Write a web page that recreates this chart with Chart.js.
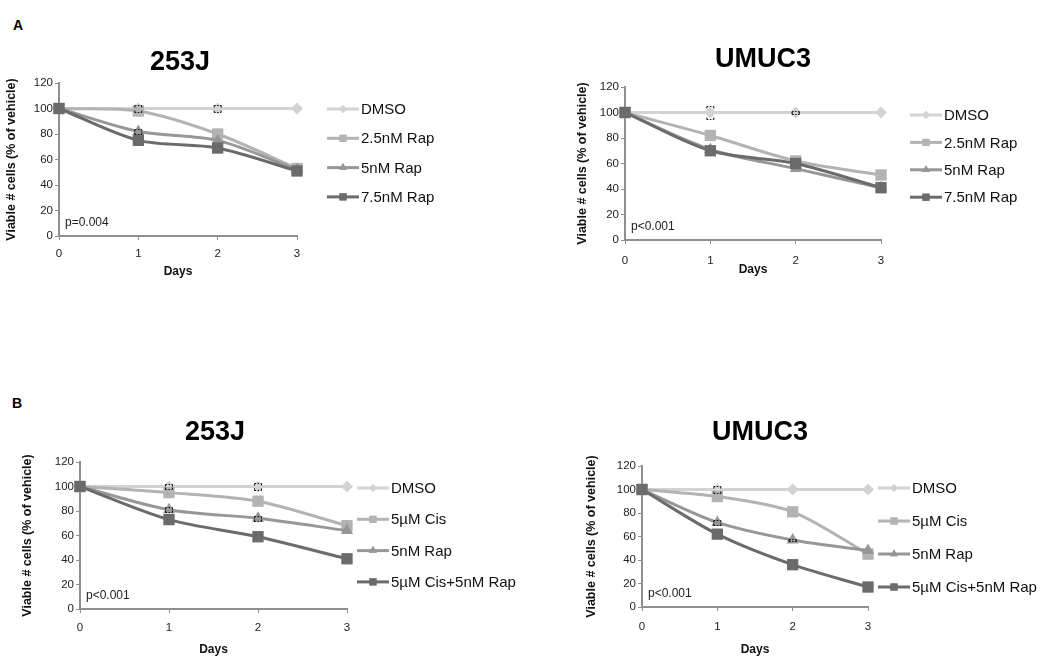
<!DOCTYPE html>
<html>
<head>
<meta charset="utf-8">
<script src="https://cdn.jsdelivr.net/npm/chart.js@4.4.0/dist/chart.umd.min.js"></script>
<style>
  body { margin: 0; background: #fff; width: 1050px; height: 672px; position: relative; overflow: hidden;
         font-family: Arial, 'Liberation Sans', sans-serif; }
  canvas { position: absolute; }
  .tag { position: absolute; font-weight: bold; font-size: 14px; color: #000; }
</style>
</head>
<body>
<div class="tag" style="left:13px;top:17px">A</div>
<div class="tag" style="left:12px;top:395px">B</div>
<canvas id="cA1"></canvas>
<canvas id="cA2"></canvas>
<canvas id="cB1"></canvas>
<canvas id="cB2"></canvas>
<script>
/* ---- data ---- */
const days = ['0', '1', '2', '3'];
const yMax = 120, yStep = 20;

const namesA = ['DMSO', '2.5nM Rap', '5nM Rap', '7.5nM Rap'];
const namesB = ['DMSO', '5µM Cis', '5nM Rap', '5µM Cis+5nM Rap'];

// A – 253J
const a253Dmso = [100, 100, 100, 100];
const a253Rap25 = [100, 98, 80, 53];
const a253Rap5 = [100, 82, 75, 52];
const a253Rap75 = [100, 75, 69, 51];
const a253DmsoErr = [0, 3, 3, 0];
const a253Rap5Err = [0, 2, 0, 0];

// A – UMUC3
const aUmDmso = [100, 100, 100, 100];
const aUmRap25 = [100, 82, 62, 51];
const aUmRap5 = [100, 71, 56, 41];
const aUmRap75 = [100, 70, 60, 41];
const aUmDmsoErr = [0, 5, 1, 0];

// B – 253J
const b253Dmso = [100, 100, 100, 100];
const b253Cis = [100, 95, 88, 68];
const b253Rap = [100, 81, 74, 64];
const b253Combo = [100, 73, 59, 41];
const b253DmsoErr = [0, 2, 3, 0];
const b253RapErr = [0, 2, 2, 0];

// B – UMUC3
const bUmDmso = [100, 100, 100, 100];
const bUmCis = [100, 94, 81, 45];
const bUmRap = [100, 72, 57, 48];
const bUmCombo = [100, 62, 36, 17];
const bUmDmsoErr = [0, 3, 0, 0];
const bUmRapErr = [0, 2, 1, 0];

/* ---- look ---- */
const FONT = "Arial, 'Liberation Sans', sans-serif";
const colors = ['#d3d3d3', '#b3b3b3', '#979797', '#6b6b6b'];
const markers = ['rectRot', 'rect', 'triangle', 'rect'];
const radii = [6, 8, 7, 8];
const legRadii = [4, 5, 4.5, 5];
const axisCol = '#8f8f8f';

/* ── titles, p value, legend and error bars drawn on the canvas ── */
const panelText = {
    id: 'panelText',
    afterDatasetsDraw(chart, args, o) {
        const ctx = chart.ctx, ca = chart.chartArea;
        const ys = chart.scales.y;
        ctx.save();
        // error bars (dotted caps)
        chart.data.datasets.forEach((ds, i) => {
            if (!ds.errors) return;
            const meta = chart.getDatasetMeta(i);
            ds.errors.forEach((e, j) => {
                if (!e) return;
                const x = meta.data[j].x;
                const yTop = Math.round(ys.getPixelForValue(ds.data[j] + e)) + 0.5;
                const yBot = Math.round(ys.getPixelForValue(ds.data[j] - e)) + 0.5;
                ctx.strokeStyle = '#111'; ctx.lineWidth = 1; ctx.setLineDash([1.5, 1.5]);
                ctx.beginPath();
                ctx.moveTo(x - 3.5, yTop); ctx.lineTo(x + 3.5, yTop);
                ctx.moveTo(x - 3.5, yBot); ctx.lineTo(x + 3.5, yBot);
                ctx.stroke();
                ctx.setLineDash([]);
                ctx.beginPath();
                ctx.moveTo(x - 3.5, yTop); ctx.lineTo(x - 3.5, yTop + 2);
                ctx.moveTo(x + 3.5, yTop); ctx.lineTo(x + 3.5, yTop + 2);
                ctx.moveTo(x - 3.5, yBot); ctx.lineTo(x - 3.5, yBot - 2);
                ctx.moveTo(x + 3.5, yBot); ctx.lineTo(x + 3.5, yBot - 2);
                ctx.stroke();
            });
        });
        ctx.setLineDash([]);
        // title
        ctx.fillStyle = '#000';
        ctx.font = 'bold 27px ' + FONT;
        ctx.textAlign = 'center'; ctx.textBaseline = 'middle';
        ctx.fillText(o.title, o.titleX, o.titleY);
        // p value
        ctx.font = '12px ' + FONT;
        ctx.textAlign = 'left';
        ctx.fillStyle = '#222';
        ctx.fillText(o.p, ca.left + 6, ca.bottom - 13);
        // legend
        chart.data.datasets.forEach((ds, i) => {
            const y = o.legY + i * o.legDy;
            const x0 = o.legX, x1 = o.legX + 32;
            ctx.strokeStyle = ds.borderColor; ctx.lineWidth = 3;
            ctx.beginPath(); ctx.moveTo(x0, y); ctx.lineTo(x1, y); ctx.stroke();
            ctx.fillStyle = ds.borderColor;
            Chart.helpers.drawPoint(ctx, { pointStyle: ds.pointStyle, radius: legRadii[i], borderWidth: 0 }, (x0 + x1) / 2, y);
            ctx.fill();
            ctx.fillStyle = '#111';
            ctx.font = '15px ' + FONT;
            ctx.fillText(ds.label, x1 + 2, y + 1);
        });
        ctx.restore();
    }
};

function makePanel(id, L, names, series, errs) {
    const cv = document.getElementById(id);
    cv.width = L.cw; cv.height = L.ch;
    cv.style.left = L.cx + 'px'; cv.style.top = L.cy + 'px';

    const yTitleLeft = L.yTitleX - 7.5;
    const xBottom = L.daysY + 7.2;

    const datasets = series.map((d, i) => ({
        label: names[i],
        data: d,
        errors: errs[i],
        borderColor: colors[i],
        backgroundColor: colors[i],
        pointBackgroundColor: colors[i],
        pointBorderWidth: 0,
        pointStyle: markers[i],
        pointRadius: radii[i],
        borderWidth: 3,
        tension: 0.3,
        order: 3 - i
    }));

    new Chart(cv, {
        type: 'line',
        data: { labels: days, datasets },
        options: {
            responsive: false, animation: false,
            layout: { padding: {
                left: yTitleLeft - L.cx,
                top: L.plot.t - L.cy,
                right: L.cx + L.cw - L.plot.r,
                bottom: L.cy + L.ch - xBottom
            } },
            plugins: {
                legend: { display: false }, tooltip: { enabled: false },
                panelText: {
                    title: L.title, titleX: L.titleX - L.cx, titleY: L.titleY - L.cy, p: L.p,
                    legX: L.plot.r + L.legDx - L.cx, legY: L.legY - L.cy, legDy: L.legDy
                }
            },
            scales: {
                x: {
                    type: 'category', offset: false,
                    afterFit: s => { s.height = xBottom - L.plot.b; },
                    grid: { drawOnChartArea: false, drawTicks: true, tickLength: 4, color: axisCol },
                    border: { color: axisCol, width: 2 },
                    ticks: { color: '#222', font: { family: FONT, size: 11.5 }, padding: L.xPad, maxRotation: 0 },
                    title: { display: true, text: 'Days', color: '#111', padding: 0,
                             font: { family: FONT, size: 12, weight: 'bold' } }
                },
                y: {
                    min: 0, max: yMax,
                    afterFit: s => { s.width = L.plot.l - yTitleLeft; },
                    grid: { drawOnChartArea: false, drawTicks: true, tickLength: 4, color: axisCol },
                    border: { color: axisCol, width: 2 },
                    ticks: { stepSize: yStep, color: '#222', font: { family: FONT, size: 11.5 }, padding: 2 },
                    title: { display: true, text: 'Viable # cells (% of vehicle)', color: '#111', padding: 0,
                             font: { family: FONT, size: 12.5, weight: 'bold' } }
                }
            }
        },
        plugins: [panelText]
    });
}

makePanel('cA1',
    { cx: 0, cy: 30, cw: 540, ch: 270, plot: { l: 59, t: 83, r: 297, b: 236 },
      title: '253J', titleX: 180, titleY: 63, yTitleX: 12, daysY: 272, xPad: 7,
      p: 'p=0.004', legDx: 30, legY: 109, legDy: 29.3 },
    namesA, [a253Dmso, a253Rap25, a253Rap5, a253Rap75], [a253DmsoErr, null, a253Rap5Err, null]);

makePanel('cA2',
    { cx: 540, cy: 30, cw: 510, ch: 270, plot: { l: 625, t: 87, r: 881, b: 240 },
      title: 'UMUC3', titleX: 763, titleY: 60, yTitleX: 583, daysY: 270, xPad: 10,
      p: 'p<0.001', legDx: 29, legY: 115, legDy: 27.4 },
    namesA, [aUmDmso, aUmRap25, aUmRap5, aUmRap75], [aUmDmsoErr, null, null, null]);

makePanel('cB1',
    { cx: 0, cy: 400, cw: 550, ch: 272, plot: { l: 80, t: 462, r: 347, b: 609 },
      title: '253J', titleX: 215, titleY: 433, yTitleX: 28, daysY: 650, xPad: 8,
      p: 'p<0.001', legDx: 10, legY: 488, legDy: 31.3 },
    namesB, [b253Dmso, b253Cis, b253Rap, b253Combo], [b253DmsoErr, null, b253RapErr, null]);

makePanel('cB2',
    { cx: 550, cy: 400, cw: 500, ch: 272, plot: { l: 642, t: 466, r: 868, b: 607 },
      title: 'UMUC3', titleX: 760, titleY: 433, yTitleX: 592, daysY: 650, xPad: 9,
      p: 'p<0.001', legDx: 10, legY: 488, legDy: 33 },
    namesB, [bUmDmso, bUmCis, bUmRap, bUmCombo], [bUmDmsoErr, null, bUmRapErr, null]);
</script>
</body>
</html>
